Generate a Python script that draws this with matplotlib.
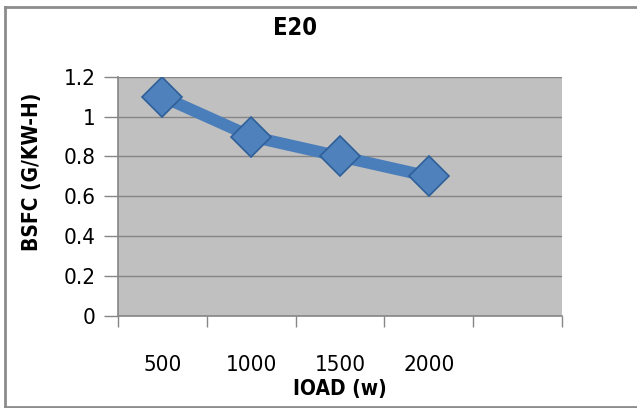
import matplotlib
matplotlib.use('Agg')
import matplotlib.pyplot as plt
from matplotlib.lines import Line2D
from matplotlib import font_manager
import numpy as np

#%% Data
load_labels = ['500', '1000', '1500', '2000', '']
bsfc = [1.1, 0.9, 0.8, 0.7]
y_ticks = [0, 0.2, 0.4, 0.6, 0.8, 1, 1.2]
y_tick_labels = ['0', '0.2', '0.4', '0.6', '0.8', '1', '1.2']

#%% narrow font if there is one (chart text is condensed)
files = [f.fname for f in font_manager.fontManager.ttflist]
def find(*keys):
    for k in keys:
        for f in files:
            if f.endswith(k):
                return font_manager.FontProperties(fname=f)
    return None

reg = find('LiberationSansNarrow-Regular.ttf', 'DejaVuSansCondensed.ttf')
bold = find('LiberationSansNarrow-Bold.ttf', 'DejaVuSansCondensed-Bold.ttf')
if reg is None:
    reg = font_manager.FontProperties(family='DejaVu Sans')
if bold is None:
    bold = font_manager.FontProperties(family='DejaVu Sans', weight='bold')

def fp(base, size):
    p = base.copy()
    p.set_size(size)
    return p

W, H = 637, 408
fig = plt.figure(figsize=(W / 100, H / 100), dpi=100)
ax = fig.add_axes([118 / W, 1 - 316 / H, (562 - 118) / W, (316 - 76.7) / H])

ax.set_facecolor('#c0c0c0')
x = np.arange(1, len(bsfc) + 1)
ax.plot(x, bsfc, color='#4a7ebb', lw=8.5, solid_capstyle='round', zorder=3)
ax.plot(x, bsfc, linestyle='none', marker='D', ms=20, mfc='#4f81bd',
        mec='#2f5f98', mew=1.2, zorder=4)

ax.set_xlim(0.5, len(load_labels) + 0.5)
ax.set_ylim(0, 1.2)

# labels in the middle, tick marks at the category edges
ax.set_xticks(np.arange(1, len(load_labels) + 1))
ax.set_xticklabels(load_labels, fontproperties=fp(reg, 16))
ax.set_xticks(np.arange(0.5, len(load_labels) + 1), minor=True)
ax.tick_params(axis='x', which='major', length=0, pad=28)
ax.tick_params(axis='x', which='minor', length=8, width=1, color='#868686')

ax.set_yticks(y_ticks)
ax.set_yticklabels(y_tick_labels, fontproperties=fp(reg, 16))
ax.tick_params(axis='y', length=10, width=1, color='#868686', pad=6)

ax.grid(axis='y', color='#868686', lw=1)
ax.set_axisbelow(True)
for s in ['top', 'right']:
    ax.spines[s].set_visible(False)
for s in ['left', 'bottom']:
    ax.spines[s].set_color('#868686')
    ax.spines[s].set_linewidth(1.2)

fig.text(295 / W, 1 - 28 / H, 'E20', ha='center', va='center',
         fontproperties=fp(bold, 17))
fig.text(340 / W, 1 - 389 / H, 'IOAD (w)', ha='center', va='center',
         fontproperties=fp(bold, 15))
fig.text(32 / W, 1 - 172 / H, 'BSFC (G/KW-H)', ha='center', va='center',
         rotation=90, fontproperties=fp(bold, 15))

# chart border (left, top, bottom)
c = '#8c8c8c'
fig.add_artist(Line2D([5 / W, 5 / W], [0, 1 - 7 / H], color=c, lw=2))
fig.add_artist(Line2D([5 / W, 1], [1 - 7 / H, 1 - 7 / H], color=c, lw=2))
fig.add_artist(Line2D([5 / W, 1], [1 / H, 1 / H], color=c, lw=2))

fig.savefig('out.png', dpi=100)
